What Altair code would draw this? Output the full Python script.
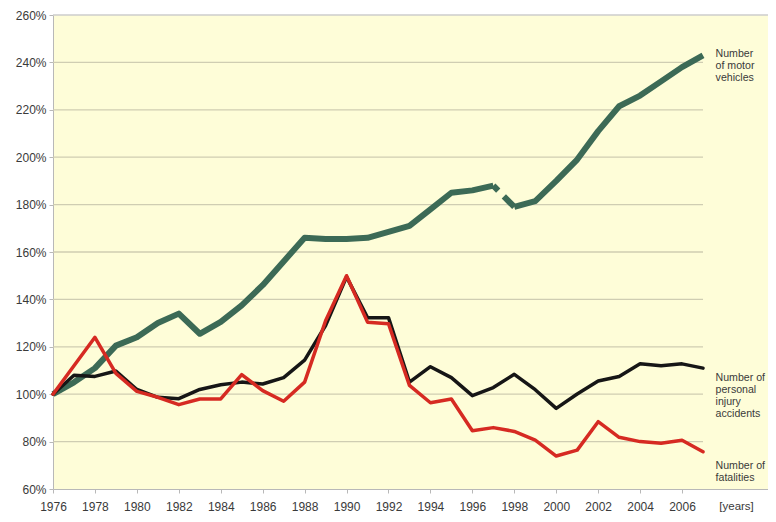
import altair as alt
import pandas as pd

years = list(range(1976, 2008))
vehicles = [100, 105, 111, 120.5, 124, 130, 134, 125.5, 130.5, 137.5, 146, 156,
            166, 165.5, 165.5, 166, 168.5, 171, 178, 185, 186, 188,
            179, 181.5, 190, 199, 211, 221.5, 226, 232, 238, 243]
injuries = [100, 108, 107.5, 109.8, 102, 98.7, 98.1, 102, 104, 105.1, 104.3, 107,
            114.4, 129, 149.5, 132.3, 132.3, 105.1, 111.6, 107, 99.4, 102.8,
            108.4, 101.9, 94, 100.1, 105.6, 107.5, 112.8, 112, 112.8, 111]
fatalities = [100, 112, 124, 108.8, 101.2, 98.7, 95.6, 98, 98, 108.3, 101.5, 97,
              105.1, 131, 150, 130.4, 129.7, 103.7, 96.4, 98, 84.6, 85.9,
              84.3, 80.6, 73.9, 76.4, 88.4, 81.8, 80, 79.3, 80.6, 75.7]

y_ticks = [60, 80, 100, 120, 140, 160, 180, 200, 220, 240, 260]
x_ticks = list(range(1976, 2007, 2))
grid_values = [80, 100, 120, 140, 160, 180, 200, 220, 240]

series_labels = ["Number\nof motor\nvehicles",
                 "Number of\npersonal\ninjury\naccidents",
                 "Number of\nfatalities"]
series_label_y = [243.5, 107, 69.5]

FONT = "Liberation Sans"
GREEN = "#3c6a56"
RED = "#d62a22"
BLACK = "#161616"

df = pd.DataFrame({"year": years, "vehicles": vehicles,
                   "injuries": injuries, "fatalities": fatalities})
veh1 = df[df.year <= 1997]
veh2 = df[df.year >= 1998]
veh_gap = df[(df.year >= 1997) & (df.year <= 1998)]

x_scale = alt.Scale(domain=[1976, 2010.1], nice=False, zero=False)
y_scale = alt.Scale(domain=[60, 260], nice=False, zero=False)

x_axis = alt.Axis(values=x_ticks, format="d", labelFont=FONT, labelFontSize=12,
                  labelColor="#3a3a3a", tickColor="#b8b8b8", tickSize=4,
                  domainColor="#b8b8b8", grid=False, labelPadding=8,
                  title=None, labelFlush=False, labelOverlap=False)
y_axis = alt.Axis(values=y_ticks, labelExpr="datum.value + '%'", labelFont=FONT,
                  labelFontSize=12, labelColor="#3a3a3a", tickColor="#b8b8b8",
                  tickSize=4, domainColor="#b8b8b8", grid=False, labelPadding=3,
                  title=None, labelOverlap=False)


def X(field):
    return alt.X(f"{field}:Q", scale=x_scale, axis=x_axis)


def Y(field):
    return alt.Y(f"{field}:Q", scale=y_scale, axis=y_axis)


grid_df = pd.DataFrame({"y": grid_values, "x0": 1976, "x1": 2007})
grid = alt.Chart(grid_df).mark_rule(color="#cfcdb2", strokeWidth=1.3).encode(
    x=X("x0"), x2="x1", y=Y("y"))
top_df = pd.DataFrame({"y": [260], "x0": [1976], "x1": [2010.1]})
top = alt.Chart(top_df).mark_rule(color="#cccccc", strokeWidth=1.3).encode(
    x=X("x0"), x2="x1", y=Y("y"))


def line(data, field, color, width, **kw):
    return alt.Chart(data).mark_line(color=color, strokeWidth=width,
                                     strokeJoin="round", **kw).encode(
        x=X("year"), y=Y(field))


g1 = line(veh1, "vehicles", GREEN, 6, strokeCap="butt")
g2 = line(veh2, "vehicles", GREEN, 6, strokeCap="butt")
ggap = line(veh_gap, "vehicles", GREEN, 6, strokeCap="butt", strokeDash=[7, 8, 60])
blk = line(df, "injuries", BLACK, 3.5, strokeCap="round")
red = line(df, "fatalities", RED, 3.5, strokeCap="round")

lab_df = pd.DataFrame({"x": [2007.6] * 3, "y": series_label_y, "t": series_labels})
labels = alt.Chart(lab_df).mark_text(align="left", baseline="middle", lineBreak="\n",
                                     font=FONT, fontSize=10.6, lineHeight=12,
                                     color="#3a3a3a").encode(
    x=X("x"), y=Y("y"), text="t:N")

yr_df = pd.DataFrame({"x": [2008.6], "y": [52.4], "t": ["[years]"]})
yr = alt.Chart(yr_df).mark_text(align="center", baseline="middle", font=FONT,
                                fontSize=11.5, color="#3a3a3a").encode(
    x=X("x"), y=Y("y"), text="t:N")

chart = alt.layer(grid, top, g1, ggap, g2, blk, red, labels, yr).properties(
    width=715, height=474,
    padding={"left": 45, "top": 7, "right": 0, "bottom": 25},
    autosize=alt.AutoSizeParams(type="none"),
    background="#ffffff",
).configure_view(fill="#fefdd8", stroke=None)

chart.save("out.html", embed_options={"renderer": "svg", "actions": False})
